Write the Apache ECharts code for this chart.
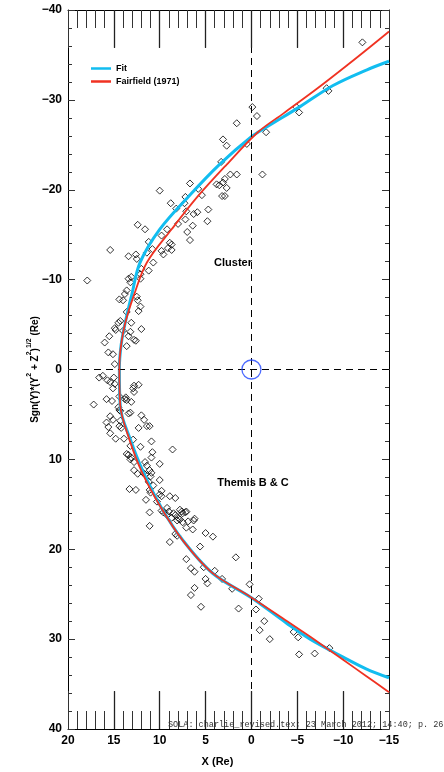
<!DOCTYPE html>
<html>
<head>
<meta charset="utf-8">
<script src="https://cdn.jsdelivr.net/npm/echarts@6/dist/echarts.min.js"></script>
<style>
html,body{margin:0;padding:0;background:#fff;}
#chart{width:444px;height:772px;}
</style>
</head>
<body>
<div id="chart"></div>
<script>
// ---- data (X in Re, Sgn(Y)*sqrt(Y^2+Z^2) in Re) ----
const xTicks = [20, 15, 10, 5, 0, -5, -10, -15];
const yTicks = [-40, -30, -20, -10, 0, 10, 20, 30, 40];

const crossings = [
[-0.1,-29.2],[-0.6,-28.2],[1.6,-27.4],[3.1,-25.6],[2.7,-24.9],[0.5,-25.1],[3.3,-23.1],[1.6,-21.7],[2.3,-21.7],[2.9,-21.2],
[3.1,-20.8],[3.8,-20.6],[3.5,-20.5],[2.7,-20.2],[3.2,-19.3],[2.9,-19.3],[6.7,-20.7],[5.8,-20.1],[5.4,-19.4],[10.0,-19.9],
[7.2,-19.2],[7.3,-18.5],[8.8,-18.5],[8.2,-17.9],[7.1,-17.6],[4.7,-17.8],[6.3,-17.3],[5.9,-17.5],[8.0,-16.2],[7.2,-16.7],
[6.4,-16.0],[4.8,-16.5],[7.0,-15.3],[6.7,-14.4],[9.2,-15.6],[9.8,-14.9],[12.4,-16.1],[11.6,-15.6],[11.2,-14.2],[8.9,-14.1],
[8.7,-13.9],[9.1,-13.5],[8.7,-13.3],[9.8,-13.2],[9.6,-12.8],[10.8,-13.4],[11.4,-13.0],[12.6,-12.8],[13.4,-12.6],[12.5,-12.3],
[15.4,-13.3],[10.7,-11.9],[12.0,-11.2],[11.2,-11.0],[12.1,-10.6],
[17.9,-9.9],[13.4,-10.1],[13.1,-10.3],[13.2,-9.7],[12.1,-10.1],[13.6,-8.8],[13.8,-8.4],[14.4,-7.8],[14.0,-7.7],[12.5,-8.1],
[12.4,-7.7],[12.1,-7.0],[12.3,-6.5],[13.6,-6.4],[14.3,-5.4],[14.5,-5.2],[13.1,-5.2],[14.9,-4.6],[14.8,-4.4],[14.0,-4.3],
[12.0,-4.5],[13.2,-4.2],[15.5,-3.7],[13.4,-3.7],[12.8,-3.3],[12.6,-3.2],[16.0,-3.0],[13.6,-2.6],[15.6,-1.9],[15.1,-1.7],
[14.9,-0.6],[16.2,0.7],[16.6,0.9],[15.0,0.9],[15.7,1.2],[15.4,1.4],[14.9,1.6],[15.1,2.1],[12.8,1.8],[12.3,1.7],
[12.9,2.1],[12.8,2.5],[17.2,3.9],[15.8,3.3],[15.2,3.5],[14.4,3.0],[13.7,3.1],[13.8,3.3],[13.6,3.4],[13.1,3.6],
[14.5,4.2],[14.4,4.5],[14.3,4.6],[15.4,5.2],[15.1,5.6],[15.8,5.9],[14.3,5.7],[14.2,6.5],[14.4,6.3],[13.4,4.9],
[13.2,4.8],[12.0,5.1],[11.7,5.6],[11.4,6.3],[12.3,6.5],[11.1,6.3],[15.6,6.4],[15.4,7.1],[14.8,7.7],[13.9,7.7],
[12.9,7.8],[10.9,8.0],
[13.2,8.5],[12.1,8.6],[8.6,8.9],[13.6,9.4],[13.4,9.5],[13.1,9.8],[13.2,10.0],[10.8,9.2],[10.9,9.8],[12.8,10.3],
[11.6,10.3],[11.4,10.7],[10.0,10.5],[11.1,11.2],[10.9,11.5],[12.8,11.2],[12.4,11.6],[11.8,11.5],[11.6,11.7],[11.0,11.9],
[11.2,12.5],[10.0,12.3],[10.7,12.9],[13.3,13.3],[12.6,13.4],[11.1,13.4],[11.0,13.7],[9.8,13.5],[10.0,13.9],[9.8,14.1],
[8.9,14.1],[8.3,14.3],[11.5,14.5],[10.3,14.7],[9.2,15.4],[9.8,15.7],[9.6,15.9],[11.1,15.9],[9.0,15.8],[8.5,16.0],
[8.3,16.2],[7.8,15.6],[7.6,15.8],[7.2,15.9],[7.5,16.0],[7.1,15.8],[9.2,16.2],[8.7,16.5],[8.0,16.5],[7.8,16.7],
[6.2,16.6],[6.3,16.8],[6.9,16.9],[7.5,17.0],[8.1,16.8],[11.1,17.4],[8.3,18.3],[8.1,18.5],[6.4,17.8],[7.1,17.6],
[5.0,18.2],[4.2,18.6],[8.9,19.2],[5.6,19.7],[7.1,21.1],[6.6,22.1],[6.2,22.5],[5.2,22.0],[1.7,20.9],[4.0,22.4],
[5.0,23.3],[4.8,23.8],[3.2,23.3],[2.1,24.4],[6.2,24.3],[6.6,25.1],[0.2,23.9],[-0.8,25.5],[-0.5,26.7],[5.5,26.4],
[1.4,26.6],[-1.4,28.0],[-0.9,29.0],[-4.6,29.2],[-2.0,30.0],[-5.1,29.8],[-6.9,31.6],[-5.2,31.7],[-8.5,31.0],
[-12.1,-36.4],[-8.2,-31.3],[-8.4,-31.0],[-4.9,-29.2],[-5.2,-28.6],[-1.6,-26.4],[-1.2,-21.7]
];

const fitCurve = [
[-15,-34.3],[-12.6,-33.35],[-8.9,-31.6],[-5.3,-29.25],[-1.7,-27.0],[0,-25.9],[3.5,-22.8],[6.9,-19.2],[10.0,-15.6],
[12.15,-11.9],[13.05,-8.3],[13.7,-5.5],[14.2,-2.8],[14.4,0],[14.3,4.1],[13.2,7.8],[11.8,11.4],[9.8,15.4],[7.4,19.1],
[4.2,22.7],[0,25.4],[-3.8,28.2],[-6.4,30.0],[-10,32.0],[-12.5,33.3],[-15,34.3]
];

const fairfieldCurve = [
[-15,-37.6],[-13.8,-36.6],[-10.5,-33.9],[-7.1,-31.2],[-3.5,-28.5],[-0.7,-26.4],[2.7,-22.8],[5.9,-19.2],[8.7,-15.6],
[11.4,-11.9],[12.8,-8.3],[13.8,-5.0],[14.3,-2.0],[14.4,0],[14.3,4.0],[13.3,7.8],[11.9,11.5],[9.9,15.3],[7.5,19.0],
[4.3,22.6],[0.1,25.3],[-3.9,28.0],[-6.5,29.8],[-10,32.3],[-12.5,34.1],[-15,35.9]
];

const origin = [[0, 0]];

// ---- chart ----
const minus = v => String(v).replace('-', '\u2212');
const FONT = 'Liberation Sans';
const Y_MIN = -40, Y_MAX = 40;
const MAJOR_TICK_Y = 4.2; // long x-axis ticks, in y data units

function xAx(pos, labels, interval, tickLen) {
  return {
    type: 'value', position: pos, min: -15, max: 20, interval: interval, inverse: true,
    axisLine: { show: labels !== null, onZero: false, lineStyle: { color: '#000', width: 1 } },
    axisTick: { show: true, inside: true, length: tickLen, lineStyle: { color: '#333', width: 1 } },
    minorTick: { show: false },
    splitLine: { show: false },
    axisLabel: { show: !!labels, formatter: minus, color: '#000', fontFamily: FONT, fontWeight: 'bold', fontSize: 12, margin: 6 },
    name: labels ? 'X (Re)' : '', nameLocation: 'middle', nameGap: 27,
    nameTextStyle: { color: '#000', fontFamily: FONT, fontWeight: 'bold', fontSize: 11, padding: [0, 22, 0, 0] }
  };
}
function yAx(pos, labels, interval, tickLen) {
  return {
    type: 'value', position: pos, min: Y_MIN, max: Y_MAX, interval: interval, inverse: true,
    axisLine: { show: labels !== null, onZero: false, lineStyle: { color: '#000', width: 1 } },
    axisTick: { show: true, inside: true, length: tickLen, lineStyle: { color: '#333' } },
    minorTick: { show: false },
    splitLine: { show: false },
    axisLabel: { show: !!labels, formatter: minus, color: '#000', fontFamily: FONT, fontWeight: 'bold', fontSize: 12, margin: 6 },
    name: labels ? '{n|Sgn(Y)*(Y}{s|2}{n| + Z}{s|2}{n|)}{s|1/2}{n| (Re)}' : '',
    nameLocation: 'middle', nameGap: 28, nameMoveOverlap: false,
    nameTextStyle: {
      color: '#000',
      rich: {
        n: { fontFamily: FONT, fontWeight: 'bold', fontSize: 10, lineHeight: 14, verticalAlign: 'bottom', color: '#000' },
        s: { fontFamily: FONT, fontWeight: 'bold', fontSize: 7, lineHeight: 14, verticalAlign: 'top', color: '#000' }
      }
    }
  };
}

// long major ticks on top and bottom x axes, built from the tick list
const majorTickLines = [];
xTicks.forEach(v => {
  if (v === 20 || v === -15) return;
  majorTickLines.push([{ coord: [v, Y_MIN] }, { coord: [v, Y_MIN + MAJOR_TICK_Y] }]);
  majorTickLines.push([{ coord: [v, Y_MAX] }, { coord: [v, Y_MAX - MAJOR_TICK_Y] }]);
});

const chart = echarts.init(document.getElementById('chart'), null, { renderer: 'canvas' });
chart.setOption({
  animation: false,
  backgroundColor: '#fff',
  grid: { left: 68, right: 55, top: 10, bottom: 31 },
  xAxis: [
    xAx('bottom', true, 5, 38), xAx('top', false, 5, 38),
    xAx('bottom', null, 1, 18), xAx('top', null, 1, 18)
  ],
  yAxis: [
    yAx('left', true, 10, 7), yAx('right', false, 10, 7),
    yAx('left', null, 2, 4), yAx('right', null, 2, 4)
  ],
  legend: {
    left: 86, top: 59, orient: 'vertical', itemGap: 4, itemWidth: 20, itemHeight: 2.5,
    icon: 'rect',
    data: ['Fit', 'Fairfield (1971)'],
    textStyle: { fontFamily: FONT, fontWeight: 'bold', fontSize: 9, color: '#000' }
  },
  graphic: [
    { type: 'text', style: { text: 'Cluster', x: 233, y: 263, textAlign: 'center', textVerticalAlign: 'middle', font: 'bold 11px "Liberation Sans"', fill: '#000' } },
    { type: 'text', style: { text: 'Themis B & C', x: 253, y: 483, textAlign: 'center', textVerticalAlign: 'middle', font: 'bold 11px "Liberation Sans"', fill: '#000' } },
    { type: 'text', style: { text: 'SOLA: charlie_revised.tex; 23 March 2012; 14:40; p. 26', x: 168, y: 725, textAlign: 'left', textVerticalAlign: 'middle', font: '8.5px "Liberation Mono"', fill: '#333' } }
  ],
  series: [
    {
      name: 'axes0', type: 'line', data: [], silent: true,
      markLine: {
        symbol: 'none', silent: true, label: { show: false },
        lineStyle: { color: '#000', type: [7, 5], width: 1 },
        data: [{ xAxis: 0 }, { yAxis: 0 }]
      }
    },
    {
      name: 'majorTicks', type: 'line', data: [], silent: true,
      markLine: {
        symbol: 'none', silent: true, label: { show: false },
        lineStyle: { color: '#222', type: 'solid', width: 1.3 },
        data: majorTickLines
      }
    },
    {
      name: 'crossings', type: 'scatter', data: crossings, symbol: 'diamond', symbolSize: 7,
      itemStyle: { color: 'rgba(0,0,0,0)', borderColor: '#000', borderWidth: 1 }, z: 3
    },
    {
      name: 'Fit', type: 'line', data: fitCurve, smooth: 0.35, symbol: 'none', color: '#12bdf0',
      lineStyle: { color: '#12bdf0', width: 3 }, z: 4
    },
    {
      name: 'Fairfield (1971)', type: 'line', data: fairfieldCurve, smooth: 0.35, symbol: 'none', color: '#f03222',
      lineStyle: { color: '#f03222', width: 1.8 }, z: 5
    },
    {
      name: 'origin', type: 'scatter', data: origin, symbol: 'circle', symbolSize: 19,
      itemStyle: { color: 'rgba(0,0,0,0)', borderColor: '#2046ff', borderWidth: 1.3 }, z: 6
    }
  ]
});
</script>
</body>
</html>
